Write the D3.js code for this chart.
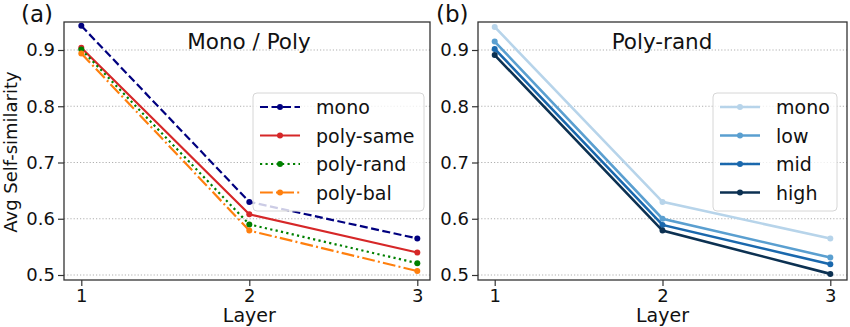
<!DOCTYPE html>
<html>
<head>
<meta charset="utf-8">
<script src="https://cdn.jsdelivr.net/npm/d3@7"></script>
<style>
  body { margin: 0; background: #fff; }
  svg { font-family: "DejaVu Sans", sans-serif; }
</style>
</head>
<body>
<svg width="850" height="327"></svg>
<script>
// data
const layers = [1, 2, 3];
const yTicks = [0.5, 0.6, 0.7, 0.8, 0.9];

const monoA = [0.943, 0.630, 0.565];
const polySame = [0.904, 0.608, 0.540];
const polyRand = [0.901, 0.590, 0.521];
const polyBal = [0.894, 0.579, 0.507];

const monoB = [0.941, 0.630, 0.565];
const lowB = [0.915, 0.600, 0.531];
const midB = [0.902, 0.589, 0.519];
const highB = [0.891, 0.579, 0.502];

const seriesA = [
  { name: "mono", values: monoA, color: "#00007f", dash: "8,3.5" },
  { name: "poly-same", values: polySame, color: "#d62728", dash: null },
  { name: "poly-rand", values: polyRand, color: "#008000", dash: "2.2,3.3" },
  { name: "poly-bal", values: polyBal, color: "#ff7f0e", dash: "12.8,3.2,2,3.2" }
];
const seriesB = [
  { name: "mono", values: monoB, color: "#b7d4ea", dash: null },
  { name: "low", values: lowB, color: "#5a9fd0", dash: null },
  { name: "mid", values: midB, color: "#1a68ad", dash: null },
  { name: "high", values: highB, color: "#0c3152", dash: null }
];

const svg = d3.select("svg");

const drawPanel = (cfg) => {
  const g = svg.append("g");
  // tick 1 and tick 3 sit at measured pixels
  const x = d3.scaleLinear().domain([1, 3]).range([cfg.x1, cfg.x3]);
  const y = d3.scaleLinear().domain([0.5, 0.9]).range([275, 50]);
  const top = 22, bottom = 280;

  // grid
  g.selectAll(".grid").data(yTicks).enter().append("line")
    .attr("x1", cfg.left).attr("x2", cfg.right)
    .attr("y1", d => y(d)).attr("y2", d => y(d))
    .attr("stroke", "#b0b0b0").attr("stroke-width", 1.2)
    .attr("stroke-dasharray", "1.2,2");

  // lines
  const line = d3.line().x((d, i) => x(layers[i])).y(d => y(d));
  cfg.series.forEach(s => {
    g.append("path").datum(s.values)
      .attr("d", line).attr("fill", "none")
      .attr("stroke", s.color).attr("stroke-width", cfg.lw)
      .attr("stroke-dasharray", s.dash);
    g.selectAll(null).data(s.values).enter().append("circle")
      .attr("cx", (d, i) => x(layers[i])).attr("cy", d => y(d))
      .attr("r", 3).attr("fill", s.color);
  });

  // frame
  g.append("rect").attr("x", cfg.left).attr("y", top)
    .attr("width", cfg.right - cfg.left).attr("height", bottom - top)
    .attr("fill", "none").attr("stroke", "#333").attr("stroke-width", 1.3);

  // axes
  g.append("g").attr("transform", `translate(0,${bottom})`)
    .call(d3.axisBottom(x).tickValues(layers).tickFormat(d3.format("d")).tickSize(6).tickPadding(3))
    .call(a => a.select(".domain").remove())
    .call(a => a.selectAll("line").attr("stroke", "#333").attr("stroke-width", 1.2))
    .call(a => a.selectAll("text").attr("font-size", 18).attr("fill", "#111").attr("font-family", "DejaVu Sans"));
  g.append("g").attr("transform", `translate(${cfg.left},0)`)
    .call(d3.axisLeft(y).tickValues(yTicks).tickFormat(d3.format(".1f")).tickSize(6).tickPadding(3))
    .call(a => a.select(".domain").remove())
    .call(a => a.selectAll("line").attr("stroke", "#333").attr("stroke-width", 1.2))
    .call(a => a.selectAll("text").attr("font-size", 18).attr("fill", "#111").attr("font-family", "DejaVu Sans"));

  g.append("text").attr("x", (cfg.x1 + cfg.x3) / 2).attr("y", 322)
    .attr("text-anchor", "middle").attr("font-size", 19).attr("fill", "#111").text("Layer");
  g.append("text").attr("x", cfg.titleX).attr("y", 49)
    .attr("text-anchor", "middle").attr("font-size", 21.5).attr("fill", "#111").text(cfg.title);
  g.append("text").attr("x", cfg.tagX).attr("y", 22)
    .attr("font-size", 23).attr("fill", "#111").text(cfg.tag);

  // legend
  const lg = g.append("g");
  lg.append("rect").attr("x", cfg.lx).attr("y", 93).attr("width", cfg.lw2).attr("height", 118)
    .attr("rx", 4).attr("fill", "#fff").attr("fill-opacity", 0.8)
    .attr("stroke", "#d6d6d6").attr("stroke-width", 1);
  cfg.series.forEach((s, i) => {
    const yy = 107 + i * 28.5;
    lg.append("line").attr("x1", cfg.lx + 7).attr("x2", cfg.lx + 47)
      .attr("y1", yy).attr("y2", yy)
      .attr("stroke", s.color).attr("stroke-width", cfg.lw)
      .attr("stroke-dasharray", s.dash);
    lg.append("circle").attr("cx", cfg.lx + 27).attr("cy", yy).attr("r", 3).attr("fill", s.color);
    lg.append("text").attr("x", cfg.lx + 63).attr("y", yy + 7)
      .attr("font-size", 19).attr("fill", "#111").text(s.name);
  });
};

drawPanel({ left: 64, right: 430, x1: 81.3, x3: 417.3, series: seriesA, lw: 2.2,
  title: "Mono / Poly", titleX: 249, tag: "(a)", tagX: 21, lx: 253, lw2: 171 });
drawPanel({ left: 478, right: 847, x1: 494.7, x3: 830.3, series: seriesB, lw: 2.6,
  title: "Poly-rand", titleX: 662, tag: "(b)", tagX: 436, lx: 713, lw2: 124 });

// y label
svg.append("text").attr("transform", "translate(17,152) rotate(-90)")
  .attr("text-anchor", "middle").attr("font-size", 18).attr("fill", "#111")
  .text("Avg Self-similarity");
</script>
</body>
</html>
